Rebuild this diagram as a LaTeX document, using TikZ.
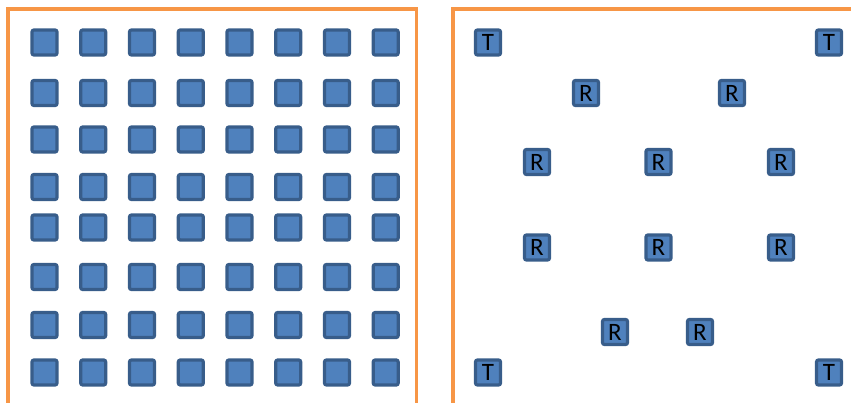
\documentclass[tikz,border=0pt]{standalone}
\usepackage{fontspec}
\setmainfont{Carlito}
\definecolor{boxfill}{HTML}{4F81BD}
\definecolor{boxline}{HTML}{385D8A}
\definecolor{frameor}{HTML}{F79646}
\begin{document}
\begin{tikzpicture}[x=1pt,y=-1pt,
  cell/.style={draw=boxline,fill=boxfill,line width=3.2pt,rounded corners=2pt,
    minimum size=25pt,inner sep=0pt,font=\fontsize{25}{25}\selectfont},
  frame/.style={draw=frameor,line width=3.5pt}]
\useasboundingbox (0,0) rectangle (851,403);
% frames
\coordinate (l1) at (8,405);
\coordinate (l2) at (8,9);
\coordinate (l3) at (416.5,9);
\coordinate (l4) at (416.5,405);
\draw[frame] (l1) -- (l2) -- (l3) -- (l4);
\coordinate (r1) at (453,405);
\coordinate (r2) at (453,9);
\coordinate (r3) at (853,9);
\draw[frame] (r1) -- (r2) -- (r3);
% left grid
\foreach \y [count=\j] in {42.5,93,139.5,187,227.5,277,325,372.5}{
  \foreach \x [count=\i] in {44.5,93.2,142,190.8,239.5,288.2,337,385.7}{
    \node[cell] (g\i-\j) at (\x,\y) {};
  }
}
% right
\node[cell] (t1) at (488,42.5) {T};
\node[cell] (t2) at (829,42.5) {T};
\node[cell] (t3) at (488,372.5) {T};
\node[cell] (t4) at (829,372.5) {T};
\node[cell] (r1n) at (586,93) {R};
\node[cell] (r2n) at (732,93) {R};
\node[cell] (r3n) at (537,162) {R};
\node[cell] (r4n) at (658.5,162) {R};
\node[cell] (r5n) at (781,162) {R};
\node[cell] (r6n) at (537,247.5) {R};
\node[cell] (r7n) at (658.5,247.5) {R};
\node[cell] (r8n) at (781,247.5) {R};
\node[cell] (r9n) at (615,332) {R};
\node[cell] (r10n) at (700,332) {R};
\end{tikzpicture}
\end{document}
